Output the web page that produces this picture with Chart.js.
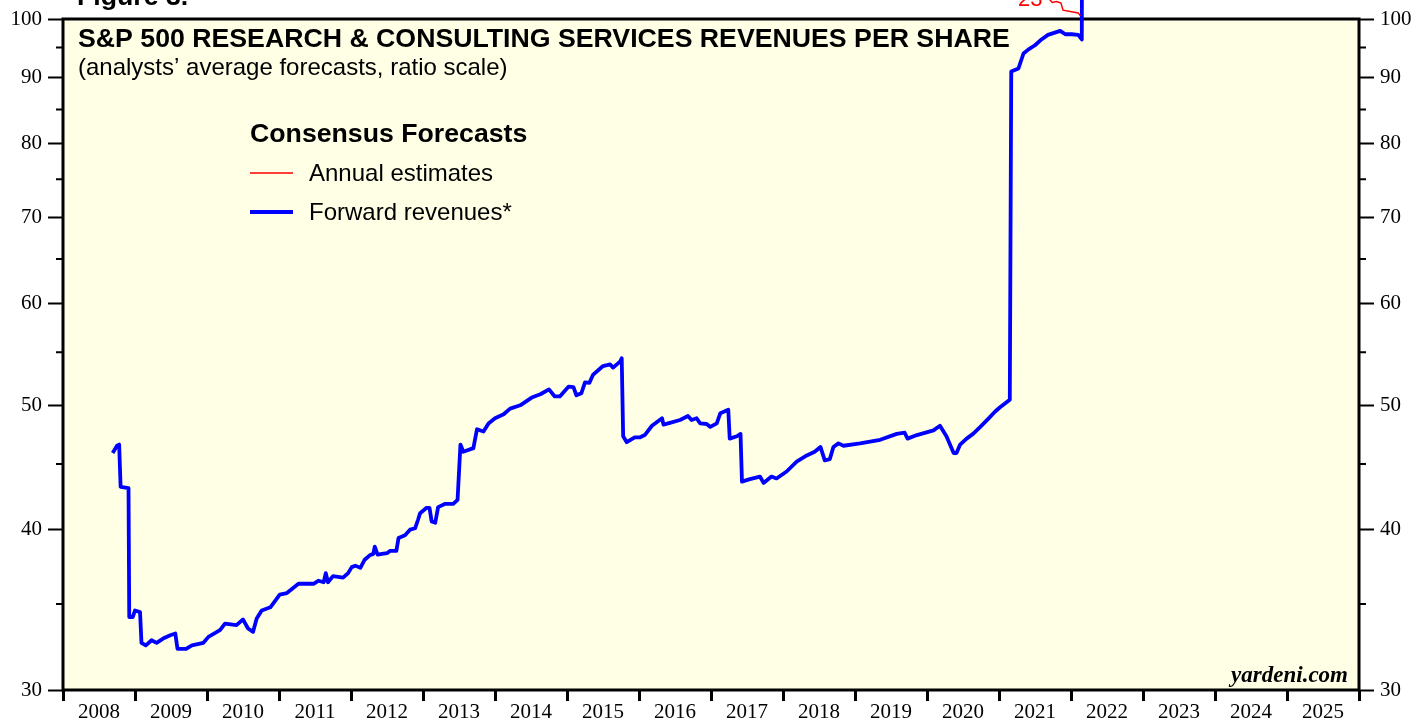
<!DOCTYPE html>
<html>
<head>
<meta charset="utf-8">
<title>S&amp;P 500 Research &amp; Consulting Services Revenues Per Share</title>
<script src="https://cdn.jsdelivr.net/npm/chart.js@4.4.0/dist/chart.umd.min.js"></script>
<style>
  html, body { margin: 0; padding: 0; background: #fff; }
  #wrap { width: 1414px; height: 719px; }
</style>
</head>
<body>
<div id="wrap"><canvas id="revChart" width="1414" height="719"></canvas></div>
<script>
// year labels under the x axis (one per year, centred between the ticks)
const yearLabels = ['2008', '2009', '2010', '2011', '2012', '2013', '2014', '2015', '2016',
                    '2017', '2018', '2019', '2020', '2021', '2022', '2023', '2024', '2025'];
const yMajorTicks = [30, 40, 50, 60, 70, 80, 90, 100];
const yMinorTicks = [35, 45, 55, 65, 75, 85, 95];

// forward revenues per share (decimal year, value)
const fwdDates = [
  2008.69, 2008.75, 2008.78, 2008.80, 2008.91, 2008.92, 2008.97, 2009.00, 2009.07, 2009.09,
  2009.15, 2009.23, 2009.30, 2009.39, 2009.49, 2009.56, 2009.59, 2009.71, 2009.79, 2009.95,
  2010.02, 2010.18, 2010.25, 2010.41, 2010.50, 2010.57, 2010.64, 2010.69, 2010.76, 2010.88,
  2011.01, 2011.11, 2011.27, 2011.48, 2011.55, 2011.62, 2011.65, 2011.68, 2011.75, 2011.89,
  2011.96, 2012.01, 2012.06, 2012.13, 2012.19, 2012.26, 2012.31, 2012.33, 2012.37, 2012.43,
  2012.50, 2012.54, 2012.63, 2012.66, 2012.75, 2012.82, 2012.89, 2012.93, 2012.96, 2013.05,
  2013.09, 2013.12, 2013.17, 2013.21, 2013.31, 2013.42, 2013.48, 2013.52, 2013.56, 2013.70,
  2013.75, 2013.84, 2013.91, 2014.00, 2014.12, 2014.21, 2014.35, 2014.51, 2014.63, 2014.75,
  2014.83, 2014.90, 2015.02, 2015.09, 2015.13, 2015.20, 2015.25, 2015.31, 2015.36, 2015.50,
  2015.60, 2015.64, 2015.74, 2015.76, 2015.78, 2015.83, 2015.94, 2016.01, 2016.08, 2016.18,
  2016.32, 2016.34, 2016.43, 2016.57, 2016.68, 2016.73, 2016.80, 2016.85, 2016.94, 2016.99,
  2017.08, 2017.13, 2017.24, 2017.26, 2017.36, 2017.41, 2017.43, 2017.54, 2017.68, 2017.73,
  2017.84, 2017.91, 2018.05, 2018.19, 2018.33, 2018.44, 2018.52, 2018.58, 2018.65, 2018.70,
  2018.77, 2018.84, 2019.07, 2019.35, 2019.58, 2019.69, 2019.73, 2019.86, 2020.09, 2020.18,
  2020.27, 2020.37, 2020.41, 2020.46, 2020.55, 2020.64, 2020.74, 2020.85, 2020.94, 2021.01,
  2021.15, 2021.17, 2021.27, 2021.34, 2021.41, 2021.50, 2021.59, 2021.68, 2021.85, 2021.92,
  2022.01, 2022.10, 2022.15, 2022.155
];
const fwdValues = [
  45.9, 46.5, 46.6, 43.2, 43.1, 34.2, 34.2, 34.6, 34.5, 32.65,
  32.5, 32.8, 32.65, 32.9, 33.1, 33.2, 32.3, 32.3, 32.5, 32.65,
  33.0, 33.4, 33.8, 33.7, 34.05, 33.5, 33.3, 34.1, 34.6, 34.8,
  35.6, 35.7, 36.3, 36.3, 36.5, 36.4, 37.0, 36.4, 36.8, 36.7,
  37.0, 37.4, 37.5, 37.35, 37.9, 38.2, 38.3, 38.8, 38.25, 38.3,
  38.35, 38.5, 38.5, 39.4, 39.6, 40.0, 40.1, 40.7, 41.2, 41.6,
  41.6, 40.6, 40.5, 41.65, 41.9, 41.9, 42.2, 46.6, 46.0, 46.3,
  47.9, 47.7, 48.4, 48.85, 49.2, 49.7, 50.0, 50.7, 51.0, 51.45,
  50.8, 50.8, 51.7, 51.65, 50.9, 51.1, 52.1, 52.05, 52.8, 53.65,
  53.8, 53.5, 54.1, 54.4, 47.3, 46.8, 47.2, 47.2, 47.4, 48.2,
  48.85, 48.3, 48.45, 48.7, 49.05, 48.7, 48.85, 48.4, 48.35, 48.1,
  48.4, 49.3, 49.6, 47.1, 47.3, 47.5, 43.6, 43.8, 44.0, 43.5,
  44.0, 43.85, 44.4, 45.2, 45.7, 46.0, 46.4, 45.3, 45.4, 46.4,
  46.7, 46.5, 46.7, 47.0, 47.5, 47.6, 47.1, 47.4, 47.8, 48.2,
  47.3, 45.9, 45.9, 46.6, 47.1, 47.5, 48.1, 48.8, 49.4, 49.8,
  50.5, 91.0, 91.5, 94.0, 94.7, 95.4, 96.4, 97.2, 97.9, 97.3,
  97.3, 97.2, 96.4, 130
];

// annual estimate for 2023 (sits above the top of the frame)
const annualDates = [2021.70, 2021.74, 2021.80, 2021.86, 2021.89, 2022.10, 2022.13];
const annualValues = [103.6, 103.0, 103.2, 102.9, 101.6, 101.1, 100.6];
const annualTag = '23';

const toPoints = (xs, ys) => xs.map((x, i) => ({ x: x, y: ys[i] }));

const serif = "'Liberation Serif', 'Times New Roman', serif";
const sans = "'Liberation Sans', Arial, sans-serif";

// frame, minor ticks, year labels and the texts in the panel
const decorations = {
  id: 'decorations',
  beforeDraw(chart) {
    const { ctx, chartArea: a } = chart;
    ctx.save();
    ctx.fillStyle = '#ffffe6';
    ctx.fillRect(a.left, a.top, a.right - a.left, a.bottom - a.top);
    ctx.restore();
  },
  beforeDatasetsDraw(chart) {
    const { ctx, chartArea: a, scales } = chart;
    ctx.save();

    ctx.strokeStyle = '#000';
    ctx.lineWidth = 3;
    ctx.strokeRect(a.left, a.top, a.right - a.left, a.bottom - a.top);

    // short ticks halfway between the labelled ones
    ctx.lineWidth = 2;
    yMinorTicks.forEach(v => {
      const y = scales.y.getPixelForValue(v);
      ctx.beginPath();
      ctx.moveTo(a.left - 7, y); ctx.lineTo(a.left, y);
      ctx.moveTo(a.right, y); ctx.lineTo(a.right + 7, y);
      ctx.stroke();
    });

    ctx.fillStyle = '#000';
    ctx.font = '21px ' + serif;
    ctx.textAlign = 'center';
    ctx.textBaseline = 'alphabetic';
    yearLabels.forEach(lbl => {
      ctx.fillText(lbl, scales.x.getPixelForValue(Number(lbl) + 0.5), 718);
    });

    ctx.textAlign = 'left';
    ctx.font = 'bold 26.7px ' + sans;
    ctx.fillText('Figure 3.', 77, 5);
    ctx.fillText('S&P 500 RESEARCH & CONSULTING SERVICES REVENUES PER SHARE', 78, 47);
    ctx.font = '24px ' + sans;
    ctx.fillText('(analysts\u2019 average forecasts, ratio scale)', 78, 75);

    ctx.font = 'bold 26.7px ' + sans;
    ctx.fillText('Consensus Forecasts', 250, 142);
    ctx.font = '24px ' + sans;
    ctx.fillText('Annual estimates', 309, 181);
    ctx.fillText('Forward revenues*', 309, 220);
    ctx.strokeStyle = '#ff0000';
    ctx.lineWidth = 1.5;
    ctx.beginPath(); ctx.moveTo(250, 173); ctx.lineTo(293, 173); ctx.stroke();
    ctx.strokeStyle = '#0000ff';
    ctx.lineWidth = 4;
    ctx.beginPath(); ctx.moveTo(250, 212); ctx.lineTo(293, 212); ctx.stroke();

    ctx.fillStyle = '#ff0000';
    ctx.font = '22px ' + sans;
    ctx.fillText(annualTag, 1018, 6);

    ctx.fillStyle = '#000';
    ctx.textAlign = 'right';
    ctx.font = 'italic bold 23px ' + serif;
    ctx.fillText('yardeni.com', 1348, 682);
    ctx.restore();
  }
};

const yAxis = (pos, width) => ({
  type: 'logarithmic',
  position: pos,
  min: 30,
  max: 100,
  afterBuildTicks: s => { s.ticks = yMajorTicks.map(v => ({ value: v })); },
  afterFit: s => { s.width = width; },
  border: { display: false },
  grid: { drawOnChartArea: false, drawTicks: true, tickLength: 15, tickWidth: 2, tickColor: '#000' },
  ticks: { color: '#000', padding: 6, font: { family: serif, size: 21 }, callback: v => String(v) }
});

new Chart(document.getElementById('revChart'), {
  type: 'line',
  data: {
    datasets: [
      {
        label: 'Annual estimates',
        data: toPoints(annualDates, annualValues),
        borderColor: '#ff0000',
        borderWidth: 1.5,
        pointRadius: 0,
        clip: false
      },
      {
        label: 'Forward revenues*',
        data: toPoints(fwdDates, fwdValues),
        borderColor: '#0000ff',
        borderWidth: 3.8,
        pointRadius: 0,
        borderJoinStyle: 'round',
        clip: false
      }
    ]
  },
  options: {
    responsive: false,
    devicePixelRatio: 1,
    animation: false,
    layout: { padding: { top: 19, left: 0, right: 0, bottom: 0 } },
    scales: {
      x: {
        type: 'linear',
        min: 2008,
        max: 2026,
        afterBuildTicks: s => {
          s.ticks = yearLabels.map(Number).concat([2026]).map(v => ({ value: v }));
        },
        afterFit: s => { s.height = 29; },
        border: { display: false },
        grid: { drawOnChartArea: false, drawTicks: true, tickLength: 11, tickWidth: 3, tickColor: '#000' },
        ticks: { display: false }
      },
      y: yAxis('left', 63),
      yR: yAxis('right', 55)
    },
    plugins: {
      legend: { display: false },
      tooltip: { enabled: false }
    }
  },
  plugins: [decorations]
});
</script>
</body>
</html>
